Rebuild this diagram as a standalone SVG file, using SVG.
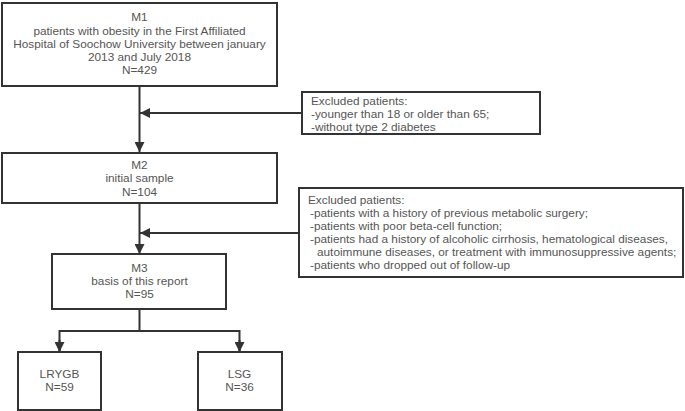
<svg xmlns="http://www.w3.org/2000/svg" width="685" height="411" viewBox="0 0 685 411">
<defs>
<marker id="ah" viewBox="0 0 10 10" refX="10" refY="5" markerWidth="10" markerHeight="10" markerUnits="userSpaceOnUse" orient="auto">
<path d="M0,0 L10,5 L0,10 z" fill="#333"/>
</marker>
<style>
.box{fill:#fff;stroke:#333;stroke-width:2}
.t{font-family:"Liberation Sans",Arial,sans-serif;font-size:11.8px;fill:#555}
.c{text-anchor:middle}
.ln{fill:none;stroke:#333;stroke-width:2}
</style>
</defs>
<rect width="685" height="411" fill="#fff"/>
<g id="connectors">
<line class="ln" x1="139.5" y1="86" x2="139.5" y2="152" marker-end="url(#ah)"/>
<line class="ln" x1="302" y1="113" x2="140" y2="113" marker-end="url(#ah)"/>
<line class="ln" x1="139.5" y1="203" x2="139.5" y2="254" marker-end="url(#ah)"/>
<line class="ln" x1="299" y1="233" x2="140" y2="233" marker-end="url(#ah)"/>
<polyline class="ln" points="139.5,309 139.5,331"/>
<polyline class="ln" points="59.5,352 59.5,331 239.5,331 239.5,352"/>
<line class="ln" x1="59.5" y1="340" x2="59.5" y2="352" marker-end="url(#ah)"/>
<line class="ln" x1="239.5" y1="340" x2="239.5" y2="352" marker-end="url(#ah)"/>
</g>
<g id="M1">
<rect class="box" x="2" y="3" width="275" height="83"/>
<text class="t c" x="139.5" y="21">M1</text>
<text class="t c" x="139.5" y="35">patients with obesity in the First Affiliated</text>
<text class="t c" x="139.5" y="48">Hospital of Soochow University between january</text>
<text class="t c" x="139.5" y="61">2013 and July 2018</text>
<text class="t c" x="139.5" y="74">N=429</text>
</g>
<g id="excl1">
<rect class="box" x="302" y="92" width="238" height="42"/>
<text class="t" x="311" y="105">Excluded patients:</text>
<text class="t" x="311" y="118">-younger than 18 or older than 65;</text>
<text class="t" x="311" y="131">-without type 2 diabetes</text>
</g>
<g id="M2">
<rect class="box" x="2" y="153" width="275" height="50"/>
<text class="t c" x="139.5" y="169">M2</text>
<text class="t c" x="139.5" y="182">initial sample</text>
<text class="t c" x="139.5" y="196">N=104</text>
</g>
<g id="excl2">
<rect class="box" x="299" y="188" width="384" height="89"/>
<text class="t" x="308" y="204">Excluded patients:</text>
<text class="t" x="310" y="217">-patients with a history of previous metabolic surgery;</text>
<text class="t" x="310" y="230">-patients with poor beta-cell function;</text>
<text class="t" x="310" y="243">-patients had a history of alcoholic cirrhosis, hematological diseases,</text>
<text class="t" x="317" y="256">autoimmune diseases, or treatment with immunosuppressive agents;</text>
<text class="t" x="310" y="269">-patients who dropped out of follow-up</text>
</g>
<g id="M3">
<rect class="box" x="52" y="254" width="174" height="55"/>
<text class="t c" x="139.5" y="272">M3</text>
<text class="t c" x="139.5" y="285">basis of this report</text>
<text class="t c" x="139.5" y="298">N=95</text>
</g>
<g id="LRYGB">
<rect class="box" x="18" y="352" width="83" height="58"/>
<text class="t c" x="59.5" y="378">LRYGB</text>
<text class="t c" x="59.5" y="391">N=59</text>
</g>
<g id="LSG">
<rect class="box" x="198" y="352" width="84" height="58"/>
<text class="t c" x="239.5" y="378">LSG</text>
<text class="t c" x="239.5" y="391">N=36</text>
</g>
</svg>
